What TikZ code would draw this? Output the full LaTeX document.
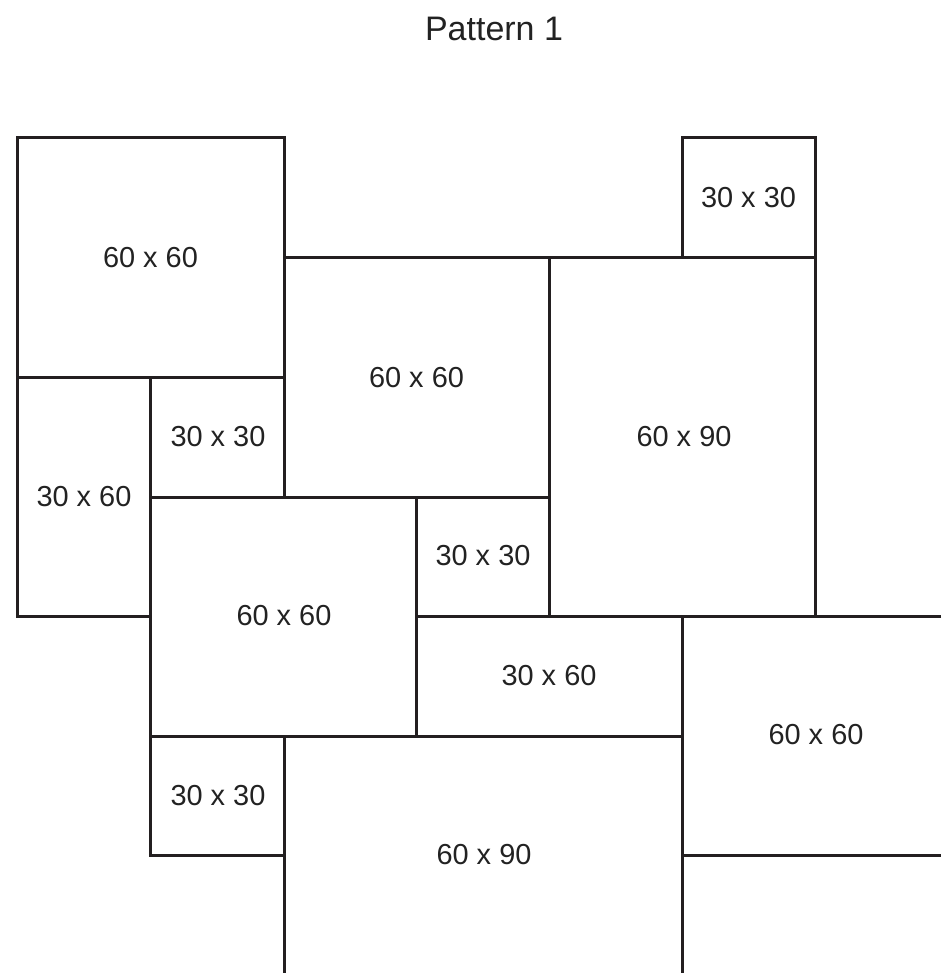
\documentclass[tikz,border=0pt]{standalone}
\usepackage{fontspec}
\setmainfont{Liberation Sans}
\definecolor{ink}{HTML}{231F20}
\definecolor{txt}{HTML}{222222}
\begin{document}
\begin{tikzpicture}[x=0.75pt,y=-0.75pt,
  tile/.style={draw=ink,line width=2.25pt},
  lbl/.style={text=txt,inner sep=0pt,font=\fontsize{21.7}{26}\selectfont},
  ttl/.style={text=txt,inner sep=0pt,font=\fontsize{25.5}{30}\selectfont}]
\useasboundingbox (0,0) rectangle (941,973);
\node[ttl] (title) at (494,29) {Pattern 1};
% closed tiles
\draw[tile] (17,138) rectangle (284,377);
\node[lbl] (t1) at (150.5,257.5) {60 x 60};
\draw[tile] (682,138) rectangle (815,258);
\node[lbl] (t2) at (748.5,198) {30 x 30};
\draw[tile] (284,258) rectangle (549,497);
\node[lbl] (t3) at (416.5,377.5) {60 x 60};
\draw[tile] (549,258) rectangle (815,616);
\node[lbl] (t4) at (684,437) {60 x 90};
\draw[tile] (17,377) rectangle (150,616);
\node[lbl] (t5) at (84,497) {30 x 60};
\draw[tile] (150,377) rectangle (284,497);
\node[lbl] (t6) at (218,437) {30 x 30};
\draw[tile] (150,497) rectangle (416,736);
\node[lbl] (t7) at (284,616) {60 x 60};
\draw[tile] (416,497) rectangle (549,616);
\node[lbl] (t8) at (483,556) {30 x 30};
\draw[tile] (416,616) rectangle (682,736);
\node[lbl] (t9) at (549,676) {30 x 60};
\draw[tile] (150,736) rectangle (284,855);
\node[lbl] (t11) at (218,795.5) {30 x 30};
% open tiles at the edges
\draw[tile] (941,616) -- (682,616) -- (682,855) -- (941,855);
\node[lbl] (t10) at (816,735) {60 x 60};
\draw[tile] (284,973) -- (284,736) -- (682,736) -- (682,973);
\draw[tile] (815,616) -- (941,616);
\node[lbl] (t12) at (484,855) {60 x 90};
\end{tikzpicture}
\end{document}
